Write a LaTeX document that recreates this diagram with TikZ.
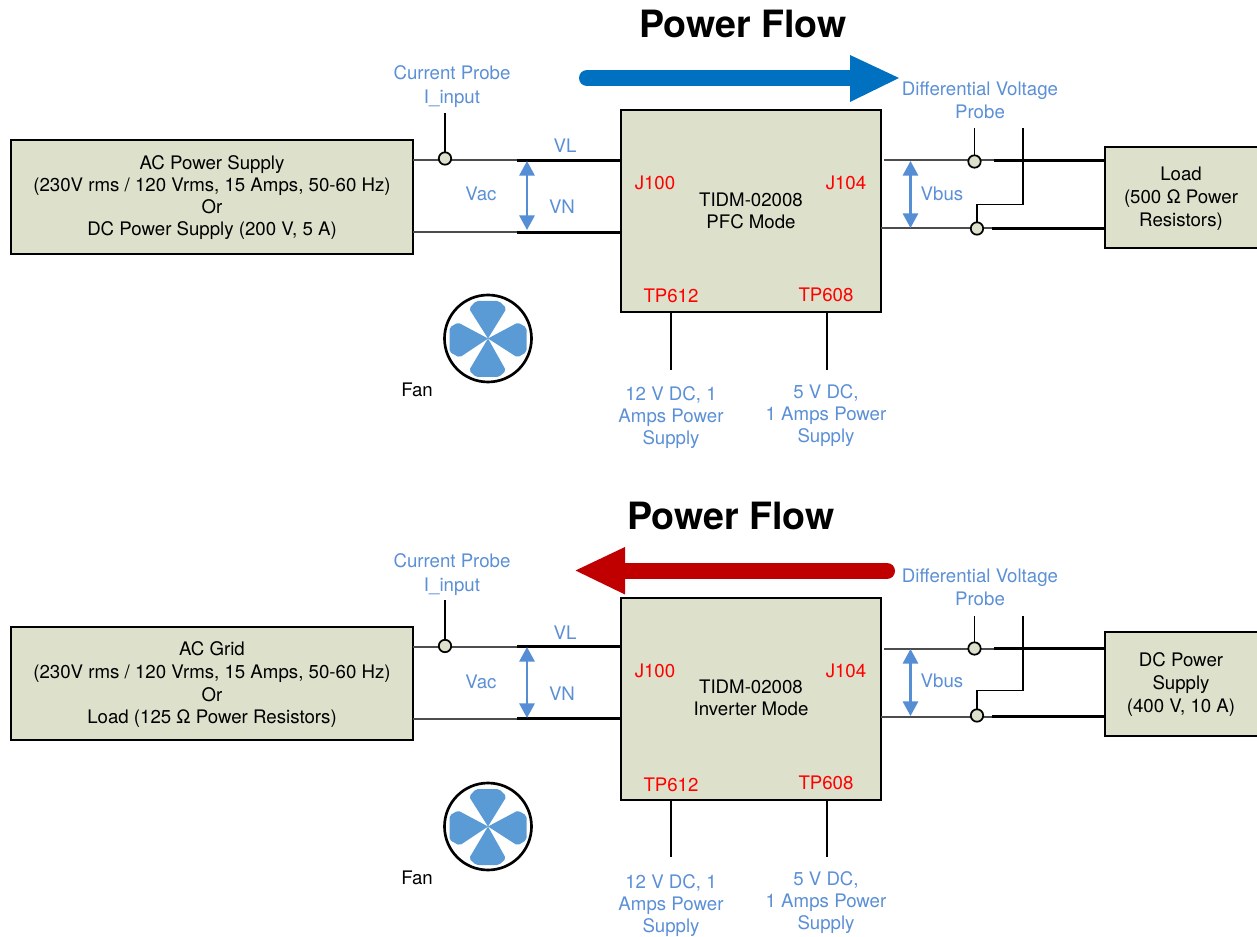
\documentclass[tikz,border=0pt]{standalone}
\usepackage{fontspec}
\setmainfont{TeX Gyre Heros}
\usetikzlibrary{arrows.meta}
\definecolor{boxfill}{HTML}{DDE0CB}
\definecolor{lblue}{HTML}{5B8FD6}
\definecolor{arrblue}{HTML}{558ED5}
\definecolor{fanblue}{HTML}{5B9BD5}
\definecolor{flowblue}{HTML}{0070C0}
\definecolor{flowred}{HTML}{C00000}
\tikzset{
  x=0.75pt,y=-0.75pt,
  every node/.style={font=\fontsize{14}{16.5}\selectfont,align=center,inner sep=0pt,outer sep=0pt},
  blockbox/.style={draw=black,line width=1.9pt,fill=boxfill,anchor=center},
  probelabel/.style={text=lblue},
  wide/.style={font=\fontsize{14}{18}\selectfont,text=lblue},
  wider/.style={font=\fontsize{14}{17.25}\selectfont,text=lblue},
  looser/.style={font=\fontsize{14}{17}\selectfont},
  loosest/.style={font=\fontsize{14}{17.25}\selectfont},
  portlabel/.style={text=red},
  title/.style={font=\fontsize{28.2}{30}\selectfont\bfseries},
  thinwire/.style={line width=1.5pt,draw=black!70},
  thickwire/.style={line width=2.2pt},
  probewire/.style={line width=1.3pt},
  supplywire/.style={line width=1.2pt},
  term/.style={circle,draw=black,line width=1.3pt,fill=boxfill,minimum size=9.3pt},
  vmeas/.style={draw=arrblue,line width=1.6pt,{Triangle[width=11.5pt,length=11pt]}-{Triangle[width=11.5pt,length=11pt]}},
  fan/.pic={
    \fill[fanblue] (0,0) [rounded corners=1.5pt] -- (-19,-30) -- (-12,-37.5) -- (11,-37.5) -- (18.5,-30) [sharp corners] -- cycle;
    \fill[fanblue] (0,0) [rounded corners=1.5pt] -- (-19,32) -- (-12,38.5) -- (11,38.5) -- (18,32) [sharp corners] -- cycle;
    \fill[fanblue] (0,0) [rounded corners=1.5pt] -- (-30,-16) -- (-38.5,-11) -- (-38.5,13.5) -- (-28.5,19) [sharp corners] -- cycle;
    \fill[fanblue] (0,0) [rounded corners=1.5pt] -- (30,-16) -- (38.5,-11) -- (38.5,13.5) -- (29.5,19) [sharp corners] -- cycle;
    \draw[line width=2pt] (0,0) circle[radius=43.5];
  }
}
\newcommand{\boxat}[5]{% name, x1,y1,x2,y2
  \node[blockbox,minimum width=#4*0.75pt-#2*0.75pt,minimum height=#5*0.75pt-#3*0.75pt] (#1) at ({(#2+#4)/2},{(#3+#5)/2}) {};}
\begin{document}
\begin{tikzpicture}
\useasboundingbox (0,0) rectangle (1257,937);
% ---------- upper panel
\node[title] (t1) at (743,24) {Power Flow};
\coordinate (f1a) at (587,78);
\coordinate (f1b) at (852,78);
\coordinate (f1c) at (899,78);
\draw[flowblue,line width=12pt,line cap=round] (f1a) -- (f1b);
\fill[flowblue] (850,55) -- (f1c) -- (850,102) -- cycle;
\boxat{ac1}{11}{140}{413}{254}
\node (ac1t) at (212,198) {AC Power Supply\\(230V rms / 120 Vrms, 15 Amps, 50-60 Hz)\\Or\\DC Power Supply (200 V, 5 A)};
\boxat{m1}{621}{110}{881}{312}
\node (m1t) at (751,210.5) {TIDM-02008\\PFC Mode};
\boxat{l1}{1105}{147}{1264}{248}
\node[loosest] (l1t) at (1181,199) {Load\\(500 Ω Power\\Resistors)};
\coordinate (a1u) at (413,160.5); \coordinate (a1um) at (517,160.5); \coordinate (m1ul) at (621,160.5);
\coordinate (a1d) at (413,232.5); \coordinate (a1dm) at (517,232.5); \coordinate (m1dl) at (621,232.5);
\draw[thinwire] (a1u) -- (a1um); \draw[thickwire] (a1um) -- (m1ul);
\draw[thinwire] (a1d) -- (a1dm); \draw[thickwire] (a1dm) -- (m1dl);
\coordinate (m1ur) at (884,160.5); \coordinate (r1um) at (994,160.5); \coordinate (l1u) at (1105,160.5);
\coordinate (m1dr) at (881,228.5); \coordinate (r1dm) at (992,228.5); \coordinate (l1d) at (1105,228.5);
\draw[thinwire] (m1ur) -- (r1um); \draw[thickwire] (r1um) -- (l1u);
\draw[thinwire] (m1dr) -- (r1dm); \draw[thickwire] (r1dm) -- (l1d);
\coordinate (cp1) at (445,113);
\node[term] (ct1) at (445,158.5) {};
\draw[probewire] (cp1) -- (ct1);
\coordinate (dp1a) at (974.5,128); \coordinate (dp1b) at (1023,128); \coordinate (dp1c) at (1023,204.5); \coordinate (dp1d) at (977,204.5);
\node[term] (dt1a) at (974.5,161.5) {};
\node[term] (dt1b) at (977,228.5) {};
\draw[probewire] (dp1a) -- (dt1a);
\draw[probewire] (dp1b) -- (dp1c) -- (dp1d) -- (dt1b);
\coordinate (v1a) at (527,161); \coordinate (v1b) at (527,230);
\draw[vmeas] (v1a) -- (v1b);
\coordinate (b1a) at (910.5,161); \coordinate (b1b) at (910.5,228);
\draw[vmeas] (b1a) -- (b1b);
\node[wide] (cl1) at (452,86.5) {Current Probe\\I\_input};
\node[wider] (dl1) at (980,100.5) {Differential Voltage\\Probe};
\node[probelabel] at (565,146) {VL};
\node[probelabel] at (562,207) {VN};
\node[probelabel] at (481,194) {Vac};
\node[probelabel] at (942,194) {Vbus};
\node[portlabel] at (655,183) {J100};
\node[portlabel] at (846,183) {J104};
\node[portlabel] at (671,296) {TP612};
\node[portlabel] at (826,295) {TP608};
\coordinate (s1a) at (671,312); \coordinate (s1b) at (671,370);
\coordinate (s1c) at (827,312); \coordinate (s1d) at (827,370);
\draw[supplywire] (s1a) -- (s1b); \draw[supplywire] (s1c) -- (s1d);
\node[probelabel] (sl1a) at (671,417.5) {12 V DC, 1\\Amps Power\\Supply};
\node[probelabel] (sl1b) at (826,415.5) {5 V DC,\\1 Amps Power\\Supply};
\pic at (488,338.5) {fan};
\node (fl1) at (417,390) {Fan};
% ---------- lower panel
\node[title] (t2) at (731,516) {Power Flow};
\coordinate (f2a) at (887,571);
\coordinate (f2b) at (623,571);
\coordinate (f2c) at (575.5,570.5);
\draw[flowred,line width=12pt,line cap=round] (f2a) -- (f2b);
\fill[flowred] (625,547) -- (f2c) -- (625,594.5) -- cycle;
\boxat{ac2}{11}{627}{413}{740}
\node[looser] (ac2t) at (212,685) {AC Grid\\(230V rms / 120 Vrms, 15 Amps, 50-60 Hz)\\Or\\Load (125 Ω Power Resistors)};
\boxat{m2}{621}{598}{881}{800}
\node (m2t) at (751,697.5) {TIDM-02008\\Inverter Mode};
\boxat{l2}{1105}{632}{1264}{736}
\node[loosest] (l2t) at (1181,685) {DC Power\\Supply\\(400 V, 10 A)};
\coordinate (a2u) at (413,646.5); \coordinate (a2um) at (517,646.5); \coordinate (m2ul) at (621,646.5);
\coordinate (a2d) at (413,718.5); \coordinate (a2dm) at (517,718.5); \coordinate (m2dl) at (621,718.5);
\draw[thinwire] (a2u) -- (a2um); \draw[thickwire] (a2um) -- (m2ul);
\draw[thinwire] (a2d) -- (a2dm); \draw[thickwire] (a2dm) -- (m2dl);
\coordinate (m2ur) at (884,648.5); \coordinate (r2um) at (994,648.5); \coordinate (l2u) at (1105,648.5);
\coordinate (m2dr) at (881,716.5); \coordinate (r2dm) at (992,716.5); \coordinate (l2d) at (1105,716.5);
\draw[thinwire] (m2ur) -- (r2um); \draw[thickwire] (r2um) -- (l2u);
\draw[thinwire] (m2dr) -- (r2dm); \draw[thickwire] (r2dm) -- (l2d);
\coordinate (cp2) at (445,600);
\node[term] (ct2) at (445,646) {};
\draw[probewire] (cp2) -- (ct2);
\coordinate (dp2a) at (974.5,616); \coordinate (dp2b) at (1023,616); \coordinate (dp2c) at (1023,690.5); \coordinate (dp2d) at (977,690.5);
\node[term] (dt2a) at (974.5,648.5) {};
\node[term] (dt2b) at (977,715.5) {};
\draw[probewire] (dp2a) -- (dt2a);
\draw[probewire] (dp2b) -- (dp2c) -- (dp2d) -- (dt2b);
\coordinate (v2a) at (527,647); \coordinate (v2b) at (527,718);
\draw[vmeas] (v2a) -- (v2b);
\coordinate (b2a) at (910.5,649); \coordinate (b2b) at (910.5,716);
\draw[vmeas] (b2a) -- (b2b);
\node[wide] (cl2) at (452,574.5) {Current Probe\\I\_input};
\node[wider] (dl2) at (980,587.5) {Differential Voltage\\Probe};
\node[probelabel] at (565,633) {VL};
\node[probelabel] at (562,694) {VN};
\node[probelabel] at (481,682) {Vac};
\node[probelabel] at (942,681) {Vbus};
\node[portlabel] at (655,671) {J100};
\node[portlabel] at (846,671) {J104};
\node[portlabel] at (671,785) {TP612};
\node[portlabel] at (826,783) {TP608};
\coordinate (s2a) at (671,800); \coordinate (s2b) at (671,857);
\coordinate (s2c) at (827,800); \coordinate (s2d) at (827,857);
\draw[supplywire] (s2a) -- (s2b); \draw[supplywire] (s2c) -- (s2d);
\node[probelabel] (sl2a) at (671,905.5) {12 V DC, 1\\Amps Power\\Supply};
\node[probelabel] (sl2b) at (826,903) {5 V DC,\\1 Amps Power\\Supply};
\pic at (488,826.5) {fan};
\node (fl2) at (417,878) {Fan};
\end{tikzpicture}
\end{document}
